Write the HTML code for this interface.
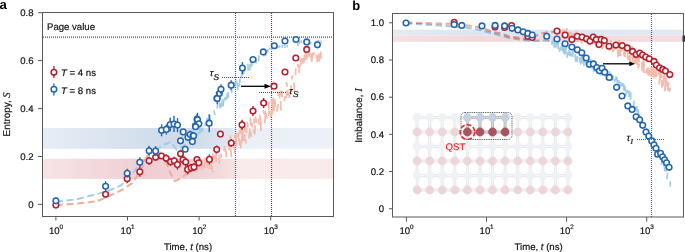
<!DOCTYPE html>
<html><head><meta charset="utf-8"><style>
html,body{margin:0;padding:0;background:#fff;width:685px;height:252px;overflow:hidden}
svg{display:block;will-change:transform;text-rendering:geometricPrecision} text[fill="#111"]{stroke:#111;stroke-width:0.18px}
</style></head><body>
<svg width="685" height="252" viewBox="0 0 685 252">
<rect width="685" height="252" fill="#fff"/>
<defs>
<linearGradient id="gbA" x1="0" x2="1" y1="0" y2="0">
 <stop offset="0" stop-color="#e6edf5"/><stop offset="0.42" stop-color="#d0dcea"/><stop offset="0.55" stop-color="#d3deeb"/><stop offset="0.66" stop-color="#e2e9f3"/><stop offset="0.665" stop-color="#ebf0f7"/><stop offset="1" stop-color="#ecf1f7"/></linearGradient>
<linearGradient id="grA" x1="0" x2="1" y1="0" y2="0">
 <stop offset="0" stop-color="#f6e4e6"/><stop offset="0.35" stop-color="#efced3"/><stop offset="0.55" stop-color="#f0d3d7"/><stop offset="0.66" stop-color="#f5e1e3"/><stop offset="0.665" stop-color="#f9ebec"/><stop offset="1" stop-color="#f9ebec"/></linearGradient>
<linearGradient id="gbB" x1="0" x2="1" y1="0" y2="0">
 <stop offset="0" stop-color="#e3ebf4"/><stop offset="0.3" stop-color="#dbe5f0"/><stop offset="1" stop-color="#e2e9f3"/></linearGradient>
<linearGradient id="grB" x1="0" x2="1" y1="0" y2="0">
 <stop offset="0" stop-color="#f5e0e3"/><stop offset="0.3" stop-color="#f2d7db"/><stop offset="1" stop-color="#f4dde0"/></linearGradient>
</defs>
<rect x="43" y="128" width="290" height="20.8" fill="url(#gbA)"/>
<rect x="43" y="158.7" width="290" height="20.2" fill="url(#grA)"/>
<line x1="43" y1="37.2" x2="333" y2="37.2" stroke="#4a4a4a" stroke-width="1.2" stroke-dasharray="1 1"/>
<text x="47" y="29.5" font-size="9.6" fill="#111" font-family="Liberation Sans, sans-serif">Page value</text>
<line x1="235.5" y1="13" x2="235.5" y2="216" stroke="#2466ae" stroke-width="1.2" stroke-dasharray="1 1"/>
<line x1="271.5" y1="13" x2="271.5" y2="216" stroke="#b5202e" stroke-width="1.2" stroke-dasharray="1 1"/>
<polyline points="56.0,202.0 78.0,199.0 97.0,194.0 109.0,190.5 121.0,185.5 132.0,174.0 140.0,164.0 150.0,153.0 157.5,148.8 164.0,144.8 171.0,141.7 176.5,149.6 183.7,145.6 189.0,143.0 195.0,137.0 203.0,128.0" fill="none" stroke="#a3cde4" stroke-width="2" stroke-dasharray="7 3.6"/>
<polyline points="56.0,205.0 78.0,203.6 97.0,201.2 106.0,197.6 121.0,190.5 132.0,183.3 140.0,172.0 146.0,158.0 152.0,151.0 158.0,150.0 163.0,157.0 167.6,165.9 170.8,173.8 174.8,181.0 177.1,180.2 183.5,176.2 188.3,173.0 195.0,170.0 200.0,167.0" fill="none" stroke="#f3ad96" stroke-width="2" stroke-dasharray="7 3.6"/>
<path d="M200.5,160.8L199.5,168.7M203.0,165.0L202.3,169.7M205.3,157.9L204.2,167.8M209.0,157.4L209.2,163.3M210.4,159.6L210.6,165.1M212.9,153.1L212.0,163.0M214.1,155.2L214.5,159.4M215.9,151.4L216.1,159.6M219.6,154.9L219.1,163.9M228.7,140.3L229.1,150.0M230.3,135.4L230.9,144.8M234.5,135.1L235.4,139.3M236.7,132.7L235.8,138.9M238.8,133.0L237.8,137.5M239.1,130.3L240.2,134.4M240.3,126.6L241.5,133.8M242.4,128.1L243.0,133.1M244.0,122.8L245.2,131.7M246.4,127.5L246.5,132.9M247.4,121.8L247.8,127.4M250.0,117.6L251.0,125.3M251.9,122.8L252.3,127.3M253.6,118.6L254.3,123.7M255.3,116.5L256.4,123.0M259.6,114.7L260.7,121.9M263.3,109.7L264.3,114.5M264.9,111.0L265.9,117.5M268.8,101.5L269.0,109.8M271.6,99.3L272.2,106.7M273.2,97.8L273.7,104.8M274.6,98.9L275.5,107.1M277.8,91.3L278.2,95.8M280.4,90.6L279.5,98.5M282.0,90.5L282.0,96.9M286.2,82.0L287.4,86.4M292.6,75.0L291.6,79.5M295.8,68.3L295.4,75.0" fill="none" stroke="#f3bcad" stroke-width="1.8" stroke-linecap="butt" opacity="1"/>
<path d="M207.2,161.6L206.8,167.5M209.6,163.8L209.5,168.9M210.4,162.0L211.2,168.9M212.0,166.3L212.8,172.4M215.5,157.6L216.3,162.1M221.4,153.8L221.1,157.8M224.7,145.9L224.1,151.7M225.6,149.0L226.5,157.3M230.6,148.3L231.4,157.1M234.3,145.8L234.6,153.1M235.9,137.0L236.5,145.7M238.6,137.3L239.8,145.7M240.6,139.8L240.8,148.4M242.1,134.6L241.7,143.1M242.8,133.0L243.3,141.0M244.9,134.1L244.0,140.9M245.8,139.3L245.7,143.4M249.9,128.7L249.0,138.5M250.6,131.7L251.6,137.1M253.4,129.2L254.0,133.2M255.2,125.3L254.7,134.7M258.4,118.9L259.5,125.2M260.8,121.4L260.9,131.1M265.3,115.6L264.8,123.5M266.0,113.5L267.0,118.7M269.3,110.3L268.8,115.7M271.0,110.4L271.0,116.9M272.9,104.8L272.0,114.6M274.5,105.2L273.9,110.8M278.1,104.1L276.9,111.6M280.5,100.9L281.1,110.5M285.0,96.4L284.4,101.1M286.4,90.6L286.6,97.7M287.8,89.7L287.8,95.5M289.8,92.4L289.2,97.8M291.1,85.3L291.5,92.3M293.9,82.7L294.5,91.4" fill="none" stroke="#f3bcad" stroke-width="1.8" stroke-linecap="butt" opacity="1"/>
<path d="M298.1,64.0L297.9,67.4M299.6,65.0L299.1,72.7M300.9,59.2L300.6,65.5M301.9,57.9L301.6,62.3M302.2,58.9L303.0,63.6M303.1,57.8L304.1,62.7M304.3,55.2L305.0,60.3M305.7,52.0L305.2,59.6M306.7,51.8L306.9,59.6M307.7,53.6L308.4,56.6M309.3,52.6L309.2,56.8M310.6,52.7L310.6,57.9M311.2,54.8L311.9,61.9M313.0,52.4L312.0,59.3M313.7,52.1L313.8,55.2M316.4,54.7L316.2,58.8M318.0,56.1L317.1,62.4M318.8,53.6L318.1,60.3M319.6,55.6L319.2,61.5M320.6,51.6L321.0,58.7" fill="none" stroke="#f3bcad" stroke-width="1.9" stroke-linecap="butt" opacity="1"/>
<path d="M199.9,125.6L200.1,133.5M201.1,127.8L201.8,132.1M202.9,127.5L202.5,131.6M205.8,121.6L205.1,126.2M207.0,118.0L207.2,123.0M208.6,118.7L208.0,123.7M210.4,115.2L210.2,120.0M213.9,110.1L214.9,115.2M217.7,104.8L217.1,108.5M218.8,100.3L220.0,107.3M221.2,103.0L220.1,108.4M222.5,99.7L221.7,106.8M223.8,99.1L223.1,106.2M225.3,96.9L224.7,100.5M227.5,92.8L226.4,99.6M228.4,92.0L228.0,98.1M231.2,86.0L231.9,92.8M234.9,82.1L233.9,88.3M236.4,80.3L236.1,85.8M237.2,83.1L237.9,89.8M240.0,78.8L239.2,86.4M242.0,71.6L241.2,78.4M242.5,69.5L243.5,75.1M244.7,69.4L244.0,72.6M247.9,63.7L248.1,71.1M250.1,64.1L249.9,70.2M251.0,62.1L251.7,66.9M252.9,57.5L252.4,64.6M255.5,57.7L256.4,63.3M259.1,55.4L258.4,61.4M263.9,50.2L263.8,56.4M265.6,52.6L265.7,55.9M266.9,50.1L267.1,53.2" fill="none" stroke="#a3cde4" stroke-width="1.7" stroke-linecap="butt" opacity="1"/>
<path d="M267.8,49.1L268.2,51.8M269.1,47.6L270.1,49.7M271.9,46.7L271.8,49.8M274.4,45.3L273.3,47.6M276.4,45.7L275.8,48.8M277.9,45.7L278.2,48.0M280.0,45.2L279.4,47.6M282.4,44.6L282.0,48.0M284.1,44.8L285.3,47.8M286.9,44.8L287.4,47.4M297.4,43.2L298.2,46.2M299.9,40.9L299.2,44.1M301.2,40.4L301.7,42.8M304.9,42.1L305.3,44.6M308.4,43.7L308.4,45.7M310.4,42.0L311.2,44.5M315.1,40.9L315.8,44.0M317.8,40.2L316.8,43.5M318.7,40.0L318.7,43.3M320.9,40.5L321.5,43.3" fill="none" stroke="#a3cde4" stroke-width="1.6" stroke-linecap="butt" opacity="1"/>
<circle cx="55.9" cy="205.1" r="2.8" fill="#fff" stroke="#b5202e" stroke-width="1.55"/>
<line x1="105.6" y1="191.8" x2="105.6" y2="196.8" stroke="#b5202e" stroke-width="1.4"/><circle cx="105.6" cy="194.3" r="2.8" fill="#fff" stroke="#b5202e" stroke-width="1.55"/>
<line x1="127.2" y1="174.3" x2="127.2" y2="183.3" stroke="#b5202e" stroke-width="1.4"/><circle cx="127.2" cy="178.8" r="2.8" fill="#fff" stroke="#b5202e" stroke-width="1.55"/>
<line x1="139.8" y1="166.7" x2="139.8" y2="176.7" stroke="#b5202e" stroke-width="1.4"/><circle cx="139.8" cy="171.7" r="2.8" fill="#fff" stroke="#b5202e" stroke-width="1.55"/>
<line x1="149.1" y1="156.8" x2="149.1" y2="164.8" stroke="#b5202e" stroke-width="1.4"/><circle cx="149.1" cy="160.8" r="2.8" fill="#fff" stroke="#b5202e" stroke-width="1.55"/>
<line x1="155.6" y1="154.3" x2="155.6" y2="160.3" stroke="#b5202e" stroke-width="1.4"/><circle cx="155.6" cy="157.3" r="2.8" fill="#fff" stroke="#b5202e" stroke-width="1.55"/>
<line x1="161.5" y1="153.0" x2="161.5" y2="159.0" stroke="#b5202e" stroke-width="1.4"/><circle cx="161.5" cy="156.0" r="2.8" fill="#fff" stroke="#b5202e" stroke-width="1.55"/>
<line x1="166.2" y1="154.3" x2="166.2" y2="162.3" stroke="#b5202e" stroke-width="1.4"/><circle cx="166.2" cy="158.3" r="2.8" fill="#fff" stroke="#b5202e" stroke-width="1.55"/>
<line x1="170.5" y1="157.8" x2="170.5" y2="165.8" stroke="#b5202e" stroke-width="1.4"/><circle cx="170.5" cy="161.8" r="2.8" fill="#fff" stroke="#b5202e" stroke-width="1.55"/>
<line x1="174.2" y1="156.7" x2="174.2" y2="164.7" stroke="#b5202e" stroke-width="1.4"/><circle cx="174.2" cy="160.7" r="2.8" fill="#fff" stroke="#b5202e" stroke-width="1.55"/>
<line x1="177.4" y1="159.6" x2="177.4" y2="169.6" stroke="#b5202e" stroke-width="1.4"/><circle cx="177.4" cy="164.6" r="2.8" fill="#fff" stroke="#b5202e" stroke-width="1.55"/>
<line x1="180.5" y1="149.7" x2="180.5" y2="157.7" stroke="#b5202e" stroke-width="1.4"/><circle cx="180.5" cy="153.7" r="2.8" fill="#fff" stroke="#b5202e" stroke-width="1.55"/>
<line x1="183.0" y1="155.7" x2="183.0" y2="163.7" stroke="#b5202e" stroke-width="1.4"/><circle cx="183.0" cy="159.7" r="2.8" fill="#fff" stroke="#b5202e" stroke-width="1.55"/>
<line x1="185.7" y1="158.0" x2="185.7" y2="166.0" stroke="#b5202e" stroke-width="1.4"/><circle cx="185.7" cy="162.0" r="2.8" fill="#fff" stroke="#b5202e" stroke-width="1.55"/>
<line x1="187.6" y1="164.4" x2="187.6" y2="174.4" stroke="#b5202e" stroke-width="1.4"/><circle cx="187.6" cy="169.4" r="2.8" fill="#fff" stroke="#b5202e" stroke-width="1.55"/>
<line x1="191.1" y1="163.8" x2="191.1" y2="171.8" stroke="#b5202e" stroke-width="1.4"/><circle cx="191.1" cy="167.8" r="2.8" fill="#fff" stroke="#b5202e" stroke-width="1.55"/>
<line x1="194.0" y1="163.0" x2="194.0" y2="171.0" stroke="#b5202e" stroke-width="1.4"/><circle cx="194.0" cy="167.0" r="2.8" fill="#fff" stroke="#b5202e" stroke-width="1.55"/>
<line x1="197.0" y1="156.6" x2="197.0" y2="162.6" stroke="#b5202e" stroke-width="1.4"/><circle cx="197.0" cy="159.6" r="2.8" fill="#fff" stroke="#b5202e" stroke-width="1.55"/>
<line x1="198.8" y1="159.8" x2="198.8" y2="165.8" stroke="#b5202e" stroke-width="1.4"/><circle cx="198.8" cy="162.8" r="2.8" fill="#fff" stroke="#b5202e" stroke-width="1.55"/>
<line x1="209.4" y1="154.4" x2="209.4" y2="164.4" stroke="#b5202e" stroke-width="1.4"/><circle cx="209.4" cy="159.4" r="2.8" fill="#fff" stroke="#b5202e" stroke-width="1.55"/>
<line x1="216.7" y1="145.5" x2="216.7" y2="153.5" stroke="#b5202e" stroke-width="1.4"/><circle cx="216.7" cy="149.5" r="2.8" fill="#fff" stroke="#b5202e" stroke-width="1.55"/>
<line x1="220.4" y1="131.1" x2="220.4" y2="137.1" stroke="#b5202e" stroke-width="1.4"/><circle cx="220.4" cy="134.1" r="2.8" fill="#fff" stroke="#b5202e" stroke-width="1.55"/>
<line x1="231.3" y1="139.0" x2="231.3" y2="147.0" stroke="#b5202e" stroke-width="1.4"/><circle cx="231.3" cy="143.0" r="2.8" fill="#fff" stroke="#b5202e" stroke-width="1.55"/>
<line x1="242.0" y1="119.8" x2="242.0" y2="129.8" stroke="#b5202e" stroke-width="1.4"/><circle cx="242.0" cy="124.8" r="2.8" fill="#fff" stroke="#b5202e" stroke-width="1.55"/>
<line x1="253.0" y1="106.0" x2="253.0" y2="116.0" stroke="#b5202e" stroke-width="1.4"/><circle cx="253.0" cy="111.0" r="2.8" fill="#fff" stroke="#b5202e" stroke-width="1.55"/>
<line x1="263.6" y1="98.0" x2="263.6" y2="108.0" stroke="#b5202e" stroke-width="1.4"/><circle cx="263.6" cy="103.0" r="2.8" fill="#fff" stroke="#b5202e" stroke-width="1.55"/>
<circle cx="274.0" cy="86.2" r="2.8" fill="#fff" stroke="#b5202e" stroke-width="1.55"/>
<circle cx="285.0" cy="72.0" r="2.8" fill="#fff" stroke="#b5202e" stroke-width="1.55"/>
<circle cx="295.8" cy="58.0" r="2.8" fill="#fff" stroke="#b5202e" stroke-width="1.55"/>
<circle cx="306.7" cy="49.4" r="2.8" fill="#fff" stroke="#b5202e" stroke-width="1.55"/>
<line x1="55.9" y1="197.2" x2="55.9" y2="204.2" stroke="#2466ae" stroke-width="1.4"/><circle cx="55.9" cy="200.7" r="2.8" fill="#fff" stroke="#2466ae" stroke-width="1.55"/>
<line x1="105.6" y1="181.2" x2="105.6" y2="191.2" stroke="#2466ae" stroke-width="1.4"/><circle cx="105.6" cy="186.2" r="2.8" fill="#fff" stroke="#2466ae" stroke-width="1.55"/>
<line x1="127.2" y1="168.8" x2="127.2" y2="177.8" stroke="#2466ae" stroke-width="1.4"/><circle cx="127.2" cy="173.3" r="2.8" fill="#fff" stroke="#2466ae" stroke-width="1.55"/>
<line x1="139.8" y1="157.2" x2="139.8" y2="167.2" stroke="#2466ae" stroke-width="1.4"/><circle cx="139.8" cy="162.2" r="2.8" fill="#fff" stroke="#2466ae" stroke-width="1.55"/>
<line x1="149.1" y1="145.8" x2="149.1" y2="155.8" stroke="#2466ae" stroke-width="1.4"/><circle cx="149.1" cy="150.8" r="2.8" fill="#fff" stroke="#2466ae" stroke-width="1.55"/>
<line x1="155.6" y1="146.1" x2="155.6" y2="156.1" stroke="#2466ae" stroke-width="1.4"/><circle cx="155.6" cy="151.1" r="2.8" fill="#fff" stroke="#2466ae" stroke-width="1.55"/>
<line x1="161.6" y1="124.3" x2="161.6" y2="136.3" stroke="#2466ae" stroke-width="1.4"/><circle cx="161.6" cy="130.3" r="2.8" fill="#fff" stroke="#2466ae" stroke-width="1.55"/>
<line x1="166.3" y1="124.4" x2="166.3" y2="134.4" stroke="#2466ae" stroke-width="1.4"/><circle cx="166.3" cy="129.4" r="2.8" fill="#fff" stroke="#2466ae" stroke-width="1.55"/>
<line x1="170.2" y1="117.6" x2="170.2" y2="131.6" stroke="#2466ae" stroke-width="1.4"/><circle cx="170.2" cy="124.6" r="2.8" fill="#fff" stroke="#2466ae" stroke-width="1.55"/>
<line x1="174.0" y1="116.0" x2="174.0" y2="132.0" stroke="#2466ae" stroke-width="1.4"/><circle cx="174.0" cy="124.0" r="2.8" fill="#fff" stroke="#2466ae" stroke-width="1.55"/>
<line x1="177.5" y1="118.1" x2="177.5" y2="132.1" stroke="#2466ae" stroke-width="1.4"/><circle cx="177.5" cy="125.1" r="2.8" fill="#fff" stroke="#2466ae" stroke-width="1.55"/>
<line x1="180.5" y1="137.8" x2="180.5" y2="143.8" stroke="#2466ae" stroke-width="1.4"/><circle cx="180.5" cy="140.8" r="2.8" fill="#fff" stroke="#2466ae" stroke-width="1.55"/>
<line x1="183.2" y1="128.9" x2="183.2" y2="134.9" stroke="#2466ae" stroke-width="1.4"/><circle cx="183.2" cy="131.9" r="2.8" fill="#fff" stroke="#2466ae" stroke-width="1.55"/>
<line x1="185.2" y1="146.2" x2="185.2" y2="152.2" stroke="#2466ae" stroke-width="1.4"/><circle cx="185.2" cy="149.2" r="2.8" fill="#fff" stroke="#2466ae" stroke-width="1.55"/>
<line x1="188.0" y1="134.3" x2="188.0" y2="140.3" stroke="#2466ae" stroke-width="1.4"/><circle cx="188.0" cy="137.3" r="2.8" fill="#fff" stroke="#2466ae" stroke-width="1.55"/>
<line x1="190.2" y1="130.6" x2="190.2" y2="138.6" stroke="#2466ae" stroke-width="1.4"/><circle cx="190.2" cy="134.6" r="2.8" fill="#fff" stroke="#2466ae" stroke-width="1.55"/>
<line x1="193.0" y1="131.7" x2="193.0" y2="139.7" stroke="#2466ae" stroke-width="1.4"/><circle cx="193.0" cy="135.7" r="2.8" fill="#fff" stroke="#2466ae" stroke-width="1.55"/>
<line x1="192.4" y1="138.6" x2="192.4" y2="144.6" stroke="#2466ae" stroke-width="1.4"/><circle cx="192.4" cy="141.6" r="2.8" fill="#fff" stroke="#2466ae" stroke-width="1.55"/>
<line x1="195.4" y1="121.9" x2="195.4" y2="129.9" stroke="#2466ae" stroke-width="1.4"/><circle cx="195.4" cy="125.9" r="2.8" fill="#fff" stroke="#2466ae" stroke-width="1.55"/>
<line x1="197.0" y1="114.2" x2="197.0" y2="124.2" stroke="#2466ae" stroke-width="1.4"/><circle cx="197.0" cy="119.2" r="2.8" fill="#fff" stroke="#2466ae" stroke-width="1.55"/>
<line x1="197.5" y1="112.8" x2="197.5" y2="126.8" stroke="#2466ae" stroke-width="1.4"/><circle cx="197.5" cy="119.8" r="2.8" fill="#fff" stroke="#2466ae" stroke-width="1.55"/>
<line x1="198.9" y1="120.8" x2="198.9" y2="126.8" stroke="#2466ae" stroke-width="1.4"/><circle cx="198.9" cy="123.8" r="2.8" fill="#fff" stroke="#2466ae" stroke-width="1.55"/>
<line x1="193.6" y1="132.7" x2="193.6" y2="138.7" stroke="#2466ae" stroke-width="1.4"/><circle cx="193.6" cy="135.7" r="2.8" fill="#fff" stroke="#2466ae" stroke-width="1.55"/>
<line x1="195.6" y1="123.7" x2="195.6" y2="129.7" stroke="#2466ae" stroke-width="1.4"/><circle cx="195.6" cy="126.7" r="2.8" fill="#fff" stroke="#2466ae" stroke-width="1.55"/>
<line x1="209.2" y1="114.2" x2="209.2" y2="132.2" stroke="#2466ae" stroke-width="1.4"/><circle cx="209.2" cy="123.2" r="2.8" fill="#fff" stroke="#2466ae" stroke-width="1.55"/>
<line x1="216.9" y1="95.3" x2="216.9" y2="101.3" stroke="#2466ae" stroke-width="1.4"/><circle cx="216.9" cy="98.3" r="2.8" fill="#fff" stroke="#2466ae" stroke-width="1.55"/>
<line x1="219.3" y1="90.6" x2="219.3" y2="96.6" stroke="#2466ae" stroke-width="1.4"/><circle cx="219.3" cy="93.6" r="2.8" fill="#fff" stroke="#2466ae" stroke-width="1.55"/>
<line x1="221.0" y1="84.3" x2="221.0" y2="94.3" stroke="#2466ae" stroke-width="1.4"/><circle cx="221.0" cy="89.3" r="2.8" fill="#fff" stroke="#2466ae" stroke-width="1.55"/>
<line x1="217.2" y1="92.6" x2="217.2" y2="104.6" stroke="#2466ae" stroke-width="1.4"/><circle cx="217.2" cy="98.6" r="2.8" fill="#fff" stroke="#2466ae" stroke-width="1.55"/>
<line x1="231.2" y1="80.2" x2="231.2" y2="90.2" stroke="#2466ae" stroke-width="1.4"/><circle cx="231.2" cy="85.2" r="2.8" fill="#fff" stroke="#2466ae" stroke-width="1.55"/>
<line x1="242.4" y1="62.1" x2="242.4" y2="74.1" stroke="#2466ae" stroke-width="1.4"/><circle cx="242.4" cy="68.1" r="2.8" fill="#fff" stroke="#2466ae" stroke-width="1.55"/>
<line x1="253.0" y1="57.5" x2="253.0" y2="61.5" stroke="#2466ae" stroke-width="1.4"/><circle cx="253.0" cy="59.5" r="2.8" fill="#fff" stroke="#2466ae" stroke-width="1.55"/>
<circle cx="263.3" cy="51.9" r="2.8" fill="#fff" stroke="#2466ae" stroke-width="1.55"/>
<circle cx="274.3" cy="45.7" r="2.8" fill="#fff" stroke="#2466ae" stroke-width="1.55"/>
<circle cx="285.0" cy="41.0" r="2.8" fill="#fff" stroke="#2466ae" stroke-width="1.55"/>
<circle cx="296.0" cy="39.5" r="2.8" fill="#fff" stroke="#2466ae" stroke-width="1.55"/>
<circle cx="306.7" cy="41.9" r="2.8" fill="#fff" stroke="#2466ae" stroke-width="1.55"/>
<circle cx="317.4" cy="44.8" r="2.8" fill="#fff" stroke="#2466ae" stroke-width="1.55"/>
<line x1="222" y1="77.5" x2="249" y2="77.5" stroke="#2466ae" stroke-width="1.2" stroke-dasharray="1 1"/>
<line x1="259" y1="92.5" x2="286" y2="92.5" stroke="#b5202e" stroke-width="1.2" stroke-dasharray="1 1"/>
<line x1="241" y1="86.3" x2="265" y2="86.3" stroke="#000" stroke-width="1.3"/>
<polygon points="264.5,83.8 270.8,86.3 264.5,88.8" fill="#000"/>
<text x="209.8" y="76.2" font-size="9.3" font-style="italic" fill="#111" font-family="Liberation Sans, sans-serif">τ</text><text x="213.6" y="79.9" font-size="8.4" font-style="italic" fill="#111" font-family="Liberation Sans, sans-serif">S</text>
<text x="288.9" y="94.1" font-size="9.3" font-style="italic" fill="#111" font-family="Liberation Sans, sans-serif">τ</text><text x="292.9" y="96.9" font-size="8.4" font-style="italic" fill="#111" font-family="Liberation Sans, sans-serif">S</text>
<line x1="53.9" y1="66" x2="53.9" y2="78" stroke="#b5202e" stroke-width="1.3"/><circle cx="53.9" cy="72.3" r="2.8" fill="#fff" stroke="#b5202e" stroke-width="1.55"/>
<line x1="53.9" y1="83.6" x2="53.9" y2="95.6" stroke="#2466ae" stroke-width="1.3"/><circle cx="53.9" cy="89.3" r="2.8" fill="#fff" stroke="#2466ae" stroke-width="1.55"/>
<text x="61" y="76" font-size="9.6" fill="#111" font-family="Liberation Sans, sans-serif"><tspan font-style="italic">T</tspan> = 4 ns</text>
<text x="61" y="94" font-size="9.6" fill="#111" font-family="Liberation Sans, sans-serif"><tspan font-style="italic">T</tspan> = 8 ns</text>
<rect x="42.5" y="12.5" width="291" height="204" fill="none" stroke="#5a5a5a" stroke-width="1"/>
<line x1="38" y1="204.4" x2="42.5" y2="204.4" stroke="#5a5a5a" stroke-width="1"/>
<text x="33.5" y="207.6" font-size="9.6" text-anchor="end" fill="#111" font-family="Liberation Sans, sans-serif">0</text>
<line x1="38" y1="156.5" x2="42.5" y2="156.5" stroke="#5a5a5a" stroke-width="1"/>
<text x="33.5" y="159.7" font-size="9.6" text-anchor="end" fill="#111" font-family="Liberation Sans, sans-serif">0.2</text>
<line x1="38" y1="108.6" x2="42.5" y2="108.6" stroke="#5a5a5a" stroke-width="1"/>
<text x="33.5" y="111.8" font-size="9.6" text-anchor="end" fill="#111" font-family="Liberation Sans, sans-serif">0.4</text>
<line x1="38" y1="60.6" x2="42.5" y2="60.6" stroke="#5a5a5a" stroke-width="1"/>
<text x="33.5" y="63.8" font-size="9.6" text-anchor="end" fill="#111" font-family="Liberation Sans, sans-serif">0.6</text>
<line x1="38" y1="12.7" x2="42.5" y2="12.7" stroke="#5a5a5a" stroke-width="1"/>
<text x="33.5" y="15.9" font-size="9.6" text-anchor="end" fill="#111" font-family="Liberation Sans, sans-serif">0.8</text>
<line x1="55.9" y1="216.5" x2="55.9" y2="220.5" stroke="#5a5a5a" stroke-width="1"/>
<text x="56.0" y="234.1" font-size="9.6" text-anchor="middle" fill="#111" font-family="Liberation Sans, sans-serif">10<tspan font-size="6.4" dx="-0.2" dy="-5">0</tspan></text>
<line x1="127.5" y1="216.5" x2="127.5" y2="220.5" stroke="#5a5a5a" stroke-width="1"/>
<text x="127.6" y="234.1" font-size="9.6" text-anchor="middle" fill="#111" font-family="Liberation Sans, sans-serif">10<tspan font-size="6.4" dx="-0.2" dy="-5">1</tspan></text>
<line x1="199.1" y1="216.5" x2="199.1" y2="220.5" stroke="#5a5a5a" stroke-width="1"/>
<text x="199.2" y="234.1" font-size="9.6" text-anchor="middle" fill="#111" font-family="Liberation Sans, sans-serif">10<tspan font-size="6.4" dx="-0.2" dy="-5">2</tspan></text>
<line x1="270.7" y1="216.5" x2="270.7" y2="220.5" stroke="#5a5a5a" stroke-width="1"/>
<text x="270.8" y="234.1" font-size="9.6" text-anchor="middle" fill="#111" font-family="Liberation Sans, sans-serif">10<tspan font-size="6.4" dx="-0.2" dy="-5">3</tspan></text>
<text x="188" y="250" font-size="9.6" text-anchor="middle" fill="#111" font-family="Liberation Sans, sans-serif">Time, <tspan font-style="italic">t</tspan> (ns)</text>
<text transform="translate(10.3,114.4) rotate(-90)" font-size="9.9" text-anchor="middle" fill="#111" font-family="Liberation Sans, sans-serif">Entropy, <tspan font-style="italic" font-size="10.5" font-family="Liberation Serif, serif">S</tspan></text>
<text x="-0.6" y="9.3" font-size="13.2" font-weight="bold" fill="#000" font-family="Liberation Sans, sans-serif">a</text>
<rect x="393" y="29.7" width="290.5" height="5.8" fill="url(#gbB)"/>
<rect x="393" y="35.5" width="290.5" height="6.3" fill="url(#grB)"/>
<line x1="417.1" y1="117.5" x2="567.9" y2="117.5" stroke="#e8e8e8" stroke-width="3"/><line x1="417.1" y1="117.5" x2="567.9" y2="117.5" stroke="#f8f8f8" stroke-width="1"/>
<line x1="417.1" y1="132.0" x2="567.9" y2="132.0" stroke="#e8e8e8" stroke-width="3"/><line x1="417.1" y1="132.0" x2="567.9" y2="132.0" stroke="#f8f8f8" stroke-width="1"/>
<line x1="417.1" y1="146.5" x2="567.9" y2="146.5" stroke="#e8e8e8" stroke-width="3"/><line x1="417.1" y1="146.5" x2="567.9" y2="146.5" stroke="#f8f8f8" stroke-width="1"/>
<line x1="417.1" y1="161.0" x2="567.9" y2="161.0" stroke="#e8e8e8" stroke-width="3"/><line x1="417.1" y1="161.0" x2="567.9" y2="161.0" stroke="#f8f8f8" stroke-width="1"/>
<line x1="417.1" y1="175.5" x2="567.9" y2="175.5" stroke="#e8e8e8" stroke-width="3"/><line x1="417.1" y1="175.5" x2="567.9" y2="175.5" stroke="#f8f8f8" stroke-width="1"/>
<line x1="417.1" y1="190.0" x2="567.9" y2="190.0" stroke="#e8e8e8" stroke-width="3"/><line x1="417.1" y1="190.0" x2="567.9" y2="190.0" stroke="#f8f8f8" stroke-width="1"/>
<line x1="417.1" y1="117.5" x2="417.1" y2="190.0" stroke="#e8e8e8" stroke-width="3"/><line x1="417.1" y1="117.5" x2="417.1" y2="190.0" stroke="#f8f8f8" stroke-width="1"/>
<line x1="429.7" y1="117.5" x2="429.7" y2="190.0" stroke="#e8e8e8" stroke-width="3"/><line x1="429.7" y1="117.5" x2="429.7" y2="190.0" stroke="#f8f8f8" stroke-width="1"/>
<line x1="442.2" y1="117.5" x2="442.2" y2="190.0" stroke="#e8e8e8" stroke-width="3"/><line x1="442.2" y1="117.5" x2="442.2" y2="190.0" stroke="#f8f8f8" stroke-width="1"/>
<line x1="454.8" y1="117.5" x2="454.8" y2="190.0" stroke="#e8e8e8" stroke-width="3"/><line x1="454.8" y1="117.5" x2="454.8" y2="190.0" stroke="#f8f8f8" stroke-width="1"/>
<line x1="467.4" y1="117.5" x2="467.4" y2="190.0" stroke="#e8e8e8" stroke-width="3"/><line x1="467.4" y1="117.5" x2="467.4" y2="190.0" stroke="#f8f8f8" stroke-width="1"/>
<line x1="480.0" y1="117.5" x2="480.0" y2="190.0" stroke="#e8e8e8" stroke-width="3"/><line x1="480.0" y1="117.5" x2="480.0" y2="190.0" stroke="#f8f8f8" stroke-width="1"/>
<line x1="492.5" y1="117.5" x2="492.5" y2="190.0" stroke="#e8e8e8" stroke-width="3"/><line x1="492.5" y1="117.5" x2="492.5" y2="190.0" stroke="#f8f8f8" stroke-width="1"/>
<line x1="505.1" y1="117.5" x2="505.1" y2="190.0" stroke="#e8e8e8" stroke-width="3"/><line x1="505.1" y1="117.5" x2="505.1" y2="190.0" stroke="#f8f8f8" stroke-width="1"/>
<line x1="517.7" y1="117.5" x2="517.7" y2="190.0" stroke="#e8e8e8" stroke-width="3"/><line x1="517.7" y1="117.5" x2="517.7" y2="190.0" stroke="#f8f8f8" stroke-width="1"/>
<line x1="530.2" y1="117.5" x2="530.2" y2="190.0" stroke="#e8e8e8" stroke-width="3"/><line x1="530.2" y1="117.5" x2="530.2" y2="190.0" stroke="#f8f8f8" stroke-width="1"/>
<line x1="542.8" y1="117.5" x2="542.8" y2="190.0" stroke="#e8e8e8" stroke-width="3"/><line x1="542.8" y1="117.5" x2="542.8" y2="190.0" stroke="#f8f8f8" stroke-width="1"/>
<line x1="555.4" y1="117.5" x2="555.4" y2="190.0" stroke="#e8e8e8" stroke-width="3"/><line x1="555.4" y1="117.5" x2="555.4" y2="190.0" stroke="#f8f8f8" stroke-width="1"/>
<line x1="567.9" y1="117.5" x2="567.9" y2="190.0" stroke="#e8e8e8" stroke-width="3"/><line x1="567.9" y1="117.5" x2="567.9" y2="190.0" stroke="#f8f8f8" stroke-width="1"/>
<line x1="467.4" y1="117.5" x2="505.1" y2="117.5" stroke="#bdbdbd" stroke-width="3"/><line x1="467.4" y1="117.5" x2="505.1" y2="117.5" stroke="#d8d8d8" stroke-width="1"/>
<line x1="467.4" y1="132.0" x2="505.1" y2="132.0" stroke="#bdbdbd" stroke-width="3"/><line x1="467.4" y1="132.0" x2="505.1" y2="132.0" stroke="#d8d8d8" stroke-width="1"/>
<line x1="467.4" y1="117.5" x2="467.4" y2="132.0" stroke="#bdbdbd" stroke-width="3"/><line x1="467.4" y1="117.5" x2="467.4" y2="132.0" stroke="#d8d8d8" stroke-width="1"/>
<line x1="480.0" y1="117.5" x2="480.0" y2="132.0" stroke="#bdbdbd" stroke-width="3"/><line x1="480.0" y1="117.5" x2="480.0" y2="132.0" stroke="#d8d8d8" stroke-width="1"/>
<line x1="492.5" y1="117.5" x2="492.5" y2="132.0" stroke="#bdbdbd" stroke-width="3"/><line x1="492.5" y1="117.5" x2="492.5" y2="132.0" stroke="#d8d8d8" stroke-width="1"/>
<line x1="505.1" y1="117.5" x2="505.1" y2="132.0" stroke="#bdbdbd" stroke-width="3"/><line x1="505.1" y1="117.5" x2="505.1" y2="132.0" stroke="#d8d8d8" stroke-width="1"/>
<circle cx="417.1" cy="117.5" r="4.4" fill="#eef1f6"/>
<circle cx="429.7" cy="117.5" r="4.4" fill="#eef1f6"/>
<circle cx="442.2" cy="117.5" r="4.4" fill="#eef1f6"/>
<circle cx="454.8" cy="117.5" r="4.4" fill="#eef1f6"/>
<circle cx="467.4" cy="117.5" r="4.4" fill="#c5d1df"/>
<circle cx="480.0" cy="117.5" r="4.4" fill="#c5d1df"/>
<circle cx="492.5" cy="117.5" r="4.4" fill="#c5d1df"/>
<circle cx="505.1" cy="117.5" r="4.4" fill="#c5d1df"/>
<circle cx="517.7" cy="117.5" r="4.4" fill="#eef1f6"/>
<circle cx="530.2" cy="117.5" r="4.4" fill="#eef1f6"/>
<circle cx="542.8" cy="117.5" r="4.4" fill="#eef1f6"/>
<circle cx="555.4" cy="117.5" r="4.4" fill="#eef1f6"/>
<circle cx="567.9" cy="117.5" r="4.4" fill="#eef1f6"/>
<circle cx="417.1" cy="132.0" r="4.4" fill="#ecd6d9"/>
<circle cx="429.7" cy="132.0" r="4.4" fill="#ecd6d9"/>
<circle cx="442.2" cy="132.0" r="4.4" fill="#ecd6d9"/>
<circle cx="454.8" cy="132.0" r="4.4" fill="#ecd6d9"/>
<circle cx="467.4" cy="132.0" r="4.4" fill="#a9555f"/>
<circle cx="480.0" cy="132.0" r="4.4" fill="#a9555f"/>
<circle cx="492.5" cy="132.0" r="4.4" fill="#a9555f"/>
<circle cx="505.1" cy="132.0" r="4.4" fill="#a9555f"/>
<circle cx="517.7" cy="132.0" r="4.4" fill="#ecd6d9"/>
<circle cx="530.2" cy="132.0" r="4.4" fill="#ecd6d9"/>
<circle cx="542.8" cy="132.0" r="4.4" fill="#ecd6d9"/>
<circle cx="555.4" cy="132.0" r="4.4" fill="#ecd6d9"/>
<circle cx="567.9" cy="132.0" r="4.4" fill="#ecd6d9"/>
<circle cx="417.1" cy="146.5" r="4.4" fill="#eef1f6"/>
<circle cx="429.7" cy="146.5" r="4.4" fill="#eef1f6"/>
<circle cx="442.2" cy="146.5" r="4.4" fill="#eef1f6"/>
<circle cx="454.8" cy="146.5" r="4.4" fill="#eef1f6"/>
<circle cx="467.4" cy="146.5" r="4.4" fill="#eef1f6"/>
<circle cx="480.0" cy="146.5" r="4.4" fill="#eef1f6"/>
<circle cx="492.5" cy="146.5" r="4.4" fill="#eef1f6"/>
<circle cx="505.1" cy="146.5" r="4.4" fill="#eef1f6"/>
<circle cx="517.7" cy="146.5" r="4.4" fill="#eef1f6"/>
<circle cx="530.2" cy="146.5" r="4.4" fill="#eef1f6"/>
<circle cx="542.8" cy="146.5" r="4.4" fill="#eef1f6"/>
<circle cx="555.4" cy="146.5" r="4.4" fill="#eef1f6"/>
<circle cx="567.9" cy="146.5" r="4.4" fill="#eef1f6"/>
<circle cx="417.1" cy="161.0" r="4.4" fill="#ecd6d9"/>
<circle cx="429.7" cy="161.0" r="4.4" fill="#ecd6d9"/>
<circle cx="442.2" cy="161.0" r="4.4" fill="#ecd6d9"/>
<circle cx="454.8" cy="161.0" r="4.4" fill="#ecd6d9"/>
<circle cx="467.4" cy="161.0" r="4.4" fill="#ecd6d9"/>
<circle cx="480.0" cy="161.0" r="4.4" fill="#ecd6d9"/>
<circle cx="492.5" cy="161.0" r="4.4" fill="#ecd6d9"/>
<circle cx="505.1" cy="161.0" r="4.4" fill="#ecd6d9"/>
<circle cx="517.7" cy="161.0" r="4.4" fill="#ecd6d9"/>
<circle cx="530.2" cy="161.0" r="4.4" fill="#ecd6d9"/>
<circle cx="542.8" cy="161.0" r="4.4" fill="#ecd6d9"/>
<circle cx="555.4" cy="161.0" r="4.4" fill="#ecd6d9"/>
<circle cx="567.9" cy="161.0" r="4.4" fill="#ecd6d9"/>
<circle cx="417.1" cy="175.5" r="4.4" fill="#eef1f6"/>
<circle cx="429.7" cy="175.5" r="4.4" fill="#eef1f6"/>
<circle cx="442.2" cy="175.5" r="4.4" fill="#eef1f6"/>
<circle cx="454.8" cy="175.5" r="4.4" fill="#eef1f6"/>
<circle cx="467.4" cy="175.5" r="4.4" fill="#eef1f6"/>
<circle cx="480.0" cy="175.5" r="4.4" fill="#eef1f6"/>
<circle cx="492.5" cy="175.5" r="4.4" fill="#eef1f6"/>
<circle cx="505.1" cy="175.5" r="4.4" fill="#eef1f6"/>
<circle cx="517.7" cy="175.5" r="4.4" fill="#eef1f6"/>
<circle cx="530.2" cy="175.5" r="4.4" fill="#eef1f6"/>
<circle cx="542.8" cy="175.5" r="4.4" fill="#eef1f6"/>
<circle cx="555.4" cy="175.5" r="4.4" fill="#eef1f6"/>
<circle cx="567.9" cy="175.5" r="4.4" fill="#eef1f6"/>
<circle cx="417.1" cy="190.0" r="4.4" fill="#ecd6d9"/>
<circle cx="429.7" cy="190.0" r="4.4" fill="#ecd6d9"/>
<circle cx="442.2" cy="190.0" r="4.4" fill="#ecd6d9"/>
<circle cx="454.8" cy="190.0" r="4.4" fill="#ecd6d9"/>
<circle cx="467.4" cy="190.0" r="4.4" fill="#ecd6d9"/>
<circle cx="480.0" cy="190.0" r="4.4" fill="#ecd6d9"/>
<circle cx="492.5" cy="190.0" r="4.4" fill="#ecd6d9"/>
<circle cx="505.1" cy="190.0" r="4.4" fill="#ecd6d9"/>
<circle cx="517.7" cy="190.0" r="4.4" fill="#ecd6d9"/>
<circle cx="530.2" cy="190.0" r="4.4" fill="#ecd6d9"/>
<circle cx="542.8" cy="190.0" r="4.4" fill="#ecd6d9"/>
<circle cx="555.4" cy="190.0" r="4.4" fill="#ecd6d9"/>
<circle cx="567.9" cy="190.0" r="4.4" fill="#ecd6d9"/>
<rect x="461" y="112.5" width="51" height="27" rx="4" fill="none" stroke="#333" stroke-width="0.8" stroke-dasharray="1 0.8"/>
<circle cx="467.4" cy="132.0" r="7.3" fill="none" stroke="#e8262c" stroke-width="1.5" stroke-dasharray="4.6 2.1"/>
<text x="445.6" y="149.5" font-size="9.6" fill="#e8262c" stroke="#e8262c" stroke-width="0.2" font-family="Liberation Sans, sans-serif">QST</text>
<line x1="651.5" y1="14" x2="651.5" y2="217" stroke="#2466ae" stroke-width="1.2" stroke-dasharray="1 1"/>
<polyline points="406.0,23.4 449.0,26.1 470.0,28.1 480.0,30.0 494.0,33.7 500.0,35.3 509.0,37.8 520.0,39.5 532.0,40.9 547.0,40.4 552.0,42.0" fill="none" stroke="#a3cde4" stroke-width="2.1" stroke-dasharray="6.4 3.5" style="mix-blend-mode:multiply"/>
<polyline points="406.0,22.6 449.0,23.8 470.0,25.7 480.0,27.5 494.0,32.2 500.0,33.2 509.0,36.3 519.0,37.8 526.0,39.0 533.0,38.0 539.0,34.0 551.0,31.7 560.0,33.0" fill="none" stroke="#f3ad96" stroke-width="2.1" stroke-dasharray="6.4 3.5" style="mix-blend-mode:multiply"/>
<path d="M559.6,29.2L560.4,34.0M563.0,29.8L562.5,34.8M564.5,29.0L564.1,34.2M566.7,28.2L567.4,37.1M568.6,31.9L567.9,36.4M569.2,31.7L569.2,39.2M570.2,31.7L570.8,37.7M572.1,33.0L571.4,39.1M573.1,32.6L573.5,40.8M574.7,33.8L574.5,38.3M576.1,31.3L576.0,37.5M577.1,36.7L577.5,41.6M578.4,37.5L578.5,41.7M579.9,36.0L580.1,40.5M581.5,35.4L581.5,43.5M586.3,37.1L585.8,42.8M587.2,37.9L587.9,43.0M588.5,37.3L588.8,45.4M589.8,39.3L590.1,45.1M592.0,35.1L591.1,41.8M593.0,36.4L592.4,42.3M594.1,38.4L593.4,43.8M595.2,37.2L594.9,44.5M597.6,36.0L598.7,40.1M598.9,36.1L599.6,41.3M599.8,41.4L600.8,46.2M601.4,41.1L602.2,49.1M602.8,41.5L603.7,47.7M604.9,37.3L603.9,43.8M606.6,39.8L607.4,47.1M609.0,44.9L610.2,50.6M610.7,39.9L611.0,47.5M612.1,43.3L612.8,49.9M614.0,43.2L613.5,51.4M614.4,42.8L615.5,49.3M616.4,43.7L616.6,49.2M619.0,40.0L619.3,48.6M620.5,45.2L620.8,52.2M622.1,43.8L622.0,51.2M622.5,42.3L623.5,50.2M624.5,48.8L623.9,55.6M626.7,44.1L626.9,52.2M627.5,46.9L628.6,53.9M629.7,45.8L629.0,53.0M632.2,46.4L631.6,54.0M632.5,51.5L633.3,59.1M633.4,52.6L634.4,58.9M635.4,50.9L635.7,55.0M636.1,55.2L637.0,60.0M639.1,55.3L638.9,62.4M642.1,61.4L642.3,67.0M643.3,59.8L644.2,65.9M648.2,67.7L647.6,74.5M649.9,69.8L648.9,75.5M651.3,67.5L650.6,76.2M652.1,66.7L652.7,71.9M654.0,68.7L653.3,76.6M655.2,69.6L655.4,75.9M656.3,70.7L656.4,76.5M659.2,68.2L658.9,75.2M660.0,72.0L660.0,80.3M660.8,69.7L661.4,78.4M663.2,75.1L664.2,81.4M664.1,74.2L665.2,78.8M666.1,77.7L665.9,85.0M667.6,81.5L666.5,86.6M668.8,82.4L667.7,90.6M670.1,87.6L669.3,91.9" fill="none" stroke="#f3bcad" stroke-width="1.9" stroke-linecap="butt" opacity="1"/>
<path d="M613.7,46.1L612.9,52.1M617.7,49.8L618.0,57.1M619.6,49.3L618.8,55.8M619.9,51.7L620.8,56.3M625.3,51.2L624.8,57.1M627.9,51.9L627.4,58.8M629.3,55.8L628.1,60.3M630.6,54.7L629.9,62.4M632.9,57.0L632.2,62.1M634.7,59.2L633.7,64.0M635.8,56.7L635.4,63.9M637.5,57.8L637.4,65.5M639.1,63.3L638.3,68.8M641.8,65.9L642.3,71.2M643.7,65.3L643.7,73.1M646.9,69.2L645.9,73.3M647.6,68.0L647.7,74.3M649.2,71.2L648.3,75.3M650.7,67.8L649.8,73.4M652.5,70.0L651.7,77.0M654.0,70.1L654.0,77.5M656.1,72.7L655.7,77.6M659.4,79.4L659.3,84.4M661.7,79.9L662.1,87.6M664.0,79.2L663.5,85.8M665.3,84.9L664.7,91.4" fill="none" stroke="#f3bcad" stroke-width="1.9" stroke-linecap="butt" opacity="1"/>
<path d="M552.0,41.0L552.0,45.3M553.1,39.3L552.9,43.8M554.0,40.3L554.3,47.5M555.5,42.9L555.6,48.2M556.8,42.2L556.8,46.3M558.5,41.7L557.9,49.0M559.2,47.4L559.8,51.9M560.6,46.6L560.3,49.9M561.6,43.1L562.2,50.9M562.7,46.7L563.5,52.8M564.4,47.9L564.4,54.7M566.5,46.2L565.3,53.6M567.3,51.8L567.1,57.7M568.9,50.2L568.8,55.4M570.2,51.5L569.8,56.4M571.8,52.2L571.3,56.1M573.1,49.5L572.7,57.1M575.1,54.1L575.7,61.7M577.2,55.7L577.0,62.1M579.2,56.9L580.1,62.8M581.2,56.7L580.8,64.7M582.1,55.3L582.9,63.2M582.9,59.1L584.1,66.2M584.7,57.8L584.8,63.3M585.2,60.7L586.4,65.4M588.3,61.6L587.5,67.9M588.6,62.5L589.8,68.1M590.9,59.4L590.0,66.2M592.6,62.7L592.2,69.3M593.7,65.9L593.4,71.8M594.2,66.1L595.3,72.0M595.7,62.2L596.6,69.8M597.2,66.4L598.3,72.4M599.7,67.2L599.1,73.8M601.4,71.2L600.6,75.4M602.5,69.6L601.6,75.4M602.9,70.0L603.7,73.6M604.9,70.6L603.8,74.8M605.8,73.5L605.3,76.9M607.0,72.9L606.1,79.9M607.5,75.8L608.6,79.8M609.4,71.0L608.8,77.5M610.8,72.7L610.1,78.7M611.2,75.7L611.8,80.1M613.4,75.4L612.4,80.3M614.4,78.7L614.6,82.2M616.1,76.1L615.5,80.6M616.9,77.2L617.6,84.8M618.6,80.2L619.1,83.4M620.3,81.8L619.7,88.3M620.7,82.5L621.7,86.0M623.0,82.9L622.3,86.7M624.3,84.4L623.5,90.6M625.0,86.7L625.5,91.8M626.7,91.4L625.6,95.9M627.2,89.7L627.9,93.2M629.3,90.7L629.0,97.2M630.8,92.5L630.6,100.3M634.1,100.6L633.2,108.3M634.5,106.0L634.6,110.3M636.1,106.5L635.8,109.8M636.8,105.9L637.2,112.5M638.3,109.1L638.0,116.7M639.4,113.8L640.1,118.4M641.3,116.9L641.2,122.9M644.4,123.3L643.5,128.5M645.8,124.3L644.6,127.7M646.6,128.1L646.8,136.0M648.6,128.8L647.4,134.5M649.7,134.8L649.1,141.1M650.7,134.9L650.2,142.1M651.5,140.5L652.2,144.3M653.5,137.1L653.1,144.3M655.2,144.2L654.1,148.3M655.5,145.6L656.6,153.1M657.9,146.2L656.8,152.1M658.9,153.0L657.8,156.4M659.0,148.9L659.9,156.1M660.8,154.9L660.6,160.4M662.3,157.5L661.5,165.0M663.7,159.4L662.7,163.4M663.9,164.1L665.0,171.4M665.7,165.3L666.0,171.7M667.5,172.8L667.0,179.1M670.2,181.3L670.3,186.4" fill="none" stroke="#a3cde4" stroke-width="1.7" stroke-linecap="butt" opacity="1"/>
<circle cx="454.2" cy="22.3" r="2.8" fill="#fff" stroke="#b5202e" stroke-width="1.55"/>
<circle cx="495.0" cy="27.0" r="2.8" fill="#fff" stroke="#b5202e" stroke-width="1.55"/>
<circle cx="504.6" cy="27.5" r="2.8" fill="#fff" stroke="#b5202e" stroke-width="1.55"/>
<circle cx="511.6" cy="25.6" r="2.8" fill="#fff" stroke="#b5202e" stroke-width="1.55"/>
<circle cx="527.9" cy="36.2" r="2.8" fill="#fff" stroke="#b5202e" stroke-width="1.55"/>
<circle cx="532.2" cy="37.5" r="2.8" fill="#fff" stroke="#b5202e" stroke-width="1.55"/>
<circle cx="557.0" cy="31.1" r="2.8" fill="#fff" stroke="#b5202e" stroke-width="1.55"/>
<circle cx="565.1" cy="35.1" r="2.8" fill="#fff" stroke="#b5202e" stroke-width="1.55"/>
<circle cx="571.9" cy="39.4" r="2.8" fill="#fff" stroke="#b5202e" stroke-width="1.55"/>
<circle cx="577.3" cy="36.2" r="2.8" fill="#fff" stroke="#b5202e" stroke-width="1.55"/>
<circle cx="582.1" cy="37.1" r="2.8" fill="#fff" stroke="#b5202e" stroke-width="1.55"/>
<circle cx="586.5" cy="38.7" r="2.8" fill="#fff" stroke="#b5202e" stroke-width="1.55"/>
<circle cx="590.0" cy="41.0" r="2.8" fill="#fff" stroke="#b5202e" stroke-width="1.55"/>
<circle cx="593.2" cy="37.1" r="2.8" fill="#fff" stroke="#b5202e" stroke-width="1.55"/>
<circle cx="596.3" cy="39.4" r="2.8" fill="#fff" stroke="#b5202e" stroke-width="1.55"/>
<circle cx="598.9" cy="44.6" r="2.8" fill="#fff" stroke="#b5202e" stroke-width="1.55"/>
<circle cx="601.1" cy="39.4" r="2.8" fill="#fff" stroke="#b5202e" stroke-width="1.55"/>
<circle cx="604.3" cy="40.6" r="2.8" fill="#fff" stroke="#b5202e" stroke-width="1.55"/>
<circle cx="609.0" cy="46.2" r="2.8" fill="#fff" stroke="#b5202e" stroke-width="1.55"/>
<circle cx="615.9" cy="45.1" r="2.8" fill="#fff" stroke="#b5202e" stroke-width="1.55"/>
<circle cx="622.2" cy="45.6" r="2.8" fill="#fff" stroke="#b5202e" stroke-width="1.55"/>
<circle cx="627.3" cy="47.9" r="2.8" fill="#fff" stroke="#b5202e" stroke-width="1.55"/>
<circle cx="632.5" cy="51.4" r="2.8" fill="#fff" stroke="#b5202e" stroke-width="1.55"/>
<circle cx="636.2" cy="54.6" r="2.8" fill="#fff" stroke="#b5202e" stroke-width="1.55"/>
<circle cx="639.7" cy="53.0" r="2.8" fill="#fff" stroke="#b5202e" stroke-width="1.55"/>
<circle cx="642.5" cy="55.1" r="2.8" fill="#fff" stroke="#b5202e" stroke-width="1.55"/>
<circle cx="645.7" cy="57.1" r="2.8" fill="#fff" stroke="#b5202e" stroke-width="1.55"/>
<circle cx="649.2" cy="58.7" r="2.8" fill="#fff" stroke="#b5202e" stroke-width="1.55"/>
<circle cx="654.0" cy="61.4" r="2.8" fill="#fff" stroke="#b5202e" stroke-width="1.55"/>
<circle cx="656.3" cy="65.1" r="2.8" fill="#fff" stroke="#b5202e" stroke-width="1.55"/>
<circle cx="659.5" cy="67.8" r="2.8" fill="#fff" stroke="#b5202e" stroke-width="1.55"/>
<circle cx="662.7" cy="69.4" r="2.8" fill="#fff" stroke="#b5202e" stroke-width="1.55"/>
<circle cx="665.4" cy="71.0" r="2.8" fill="#fff" stroke="#b5202e" stroke-width="1.55"/>
<circle cx="669.8" cy="74.6" r="2.8" fill="#fff" stroke="#b5202e" stroke-width="1.55"/>
<circle cx="406.0" cy="23.0" r="2.8" fill="#fff" stroke="#2466ae" stroke-width="1.55"/>
<circle cx="454.2" cy="24.6" r="2.8" fill="#fff" stroke="#2466ae" stroke-width="1.55"/>
<circle cx="461.8" cy="25.4" r="2.8" fill="#fff" stroke="#2466ae" stroke-width="1.55"/>
<circle cx="482.0" cy="25.9" r="2.8" fill="#fff" stroke="#2466ae" stroke-width="1.55"/>
<circle cx="495.1" cy="25.4" r="2.8" fill="#fff" stroke="#2466ae" stroke-width="1.55"/>
<circle cx="504.6" cy="25.9" r="2.8" fill="#fff" stroke="#2466ae" stroke-width="1.55"/>
<circle cx="512.1" cy="28.3" r="2.8" fill="#fff" stroke="#2466ae" stroke-width="1.55"/>
<circle cx="517.9" cy="29.9" r="2.8" fill="#fff" stroke="#2466ae" stroke-width="1.55"/>
<circle cx="523.2" cy="31.8" r="2.8" fill="#fff" stroke="#2466ae" stroke-width="1.55"/>
<circle cx="527.9" cy="33.4" r="2.8" fill="#fff" stroke="#2466ae" stroke-width="1.55"/>
<circle cx="532.2" cy="35.0" r="2.8" fill="#fff" stroke="#2466ae" stroke-width="1.55"/>
<circle cx="546.7" cy="36.2" r="2.8" fill="#fff" stroke="#2466ae" stroke-width="1.55"/>
<circle cx="557.0" cy="39.1" r="2.8" fill="#fff" stroke="#2466ae" stroke-width="1.55"/>
<circle cx="565.1" cy="43.8" r="2.8" fill="#fff" stroke="#2466ae" stroke-width="1.55"/>
<circle cx="571.9" cy="47.0" r="2.8" fill="#fff" stroke="#2466ae" stroke-width="1.55"/>
<circle cx="577.3" cy="49.8" r="2.8" fill="#fff" stroke="#2466ae" stroke-width="1.55"/>
<circle cx="581.8" cy="52.8" r="2.8" fill="#fff" stroke="#2466ae" stroke-width="1.55"/>
<circle cx="586.2" cy="58.0" r="2.8" fill="#fff" stroke="#2466ae" stroke-width="1.55"/>
<circle cx="589.4" cy="64.3" r="2.8" fill="#fff" stroke="#2466ae" stroke-width="1.55"/>
<circle cx="593.4" cy="63.9" r="2.8" fill="#fff" stroke="#2466ae" stroke-width="1.55"/>
<circle cx="596.8" cy="67.5" r="2.8" fill="#fff" stroke="#2466ae" stroke-width="1.55"/>
<circle cx="599.4" cy="70.8" r="2.8" fill="#fff" stroke="#2466ae" stroke-width="1.55"/>
<circle cx="602.1" cy="68.3" r="2.8" fill="#fff" stroke="#2466ae" stroke-width="1.55"/>
<circle cx="604.7" cy="72.2" r="2.8" fill="#fff" stroke="#2466ae" stroke-width="1.55"/>
<circle cx="609.3" cy="77.4" r="2.8" fill="#fff" stroke="#2466ae" stroke-width="1.55"/>
<circle cx="616.6" cy="87.3" r="2.8" fill="#fff" stroke="#2466ae" stroke-width="1.55"/>
<circle cx="622.0" cy="96.0" r="2.8" fill="#fff" stroke="#2466ae" stroke-width="1.55"/>
<circle cx="627.8" cy="105.9" r="2.8" fill="#fff" stroke="#2466ae" stroke-width="1.55"/>
<circle cx="632.1" cy="109.4" r="2.8" fill="#fff" stroke="#2466ae" stroke-width="1.55"/>
<circle cx="636.1" cy="116.8" r="2.8" fill="#fff" stroke="#2466ae" stroke-width="1.55"/>
<circle cx="639.7" cy="119.8" r="2.8" fill="#fff" stroke="#2466ae" stroke-width="1.55"/>
<circle cx="642.7" cy="125.3" r="2.8" fill="#fff" stroke="#2466ae" stroke-width="1.55"/>
<circle cx="646.0" cy="132.1" r="2.8" fill="#fff" stroke="#2466ae" stroke-width="1.55"/>
<circle cx="648.7" cy="136.0" r="2.8" fill="#fff" stroke="#2466ae" stroke-width="1.55"/>
<circle cx="651.7" cy="140.9" r="2.8" fill="#fff" stroke="#2466ae" stroke-width="1.55"/>
<circle cx="654.0" cy="144.9" r="2.8" fill="#fff" stroke="#2466ae" stroke-width="1.55"/>
<circle cx="656.0" cy="148.3" r="2.8" fill="#fff" stroke="#2466ae" stroke-width="1.55"/>
<circle cx="657.6" cy="154.2" r="2.8" fill="#fff" stroke="#2466ae" stroke-width="1.55"/>
<circle cx="660.6" cy="153.4" r="2.8" fill="#fff" stroke="#2466ae" stroke-width="1.55"/>
<circle cx="662.6" cy="156.8" r="2.8" fill="#fff" stroke="#2466ae" stroke-width="1.55"/>
<circle cx="664.6" cy="159.8" r="2.8" fill="#fff" stroke="#2466ae" stroke-width="1.55"/>
<circle cx="666.5" cy="162.7" r="2.8" fill="#fff" stroke="#2466ae" stroke-width="1.55"/>
<circle cx="669.1" cy="167.3" r="2.8" fill="#fff" stroke="#2466ae" stroke-width="1.55"/>
<line x1="637" y1="139.5" x2="664" y2="139.5" stroke="#2466ae" stroke-width="1.2" stroke-dasharray="1 1"/>
<line x1="603" y1="63.8" x2="630" y2="63.8" stroke="#000" stroke-width="1.3"/>
<polygon points="629.4,61.4 635,63.8 629.4,66.2" fill="#000"/>
<text x="626.6" y="141.1" font-size="10" font-style="italic" fill="#111" font-family="Liberation Sans, sans-serif">τ</text><text x="630.6" y="144.2" font-size="7.5" font-style="italic" fill="#111" font-family="Liberation Serif, serif">I</text>
<rect x="392.5" y="13.5" width="291" height="203.5" fill="none" stroke="#5a5a5a" stroke-width="1"/>
<line x1="389" y1="208.7" x2="392.5" y2="208.7" stroke="#5a5a5a" stroke-width="1"/>
<text x="384" y="211.9" font-size="9.6" text-anchor="end" fill="#111" font-family="Liberation Sans, sans-serif">0</text>
<line x1="389" y1="171.5" x2="392.5" y2="171.5" stroke="#5a5a5a" stroke-width="1"/>
<text x="384" y="174.7" font-size="9.6" text-anchor="end" fill="#111" font-family="Liberation Sans, sans-serif">0.2</text>
<line x1="389" y1="134.3" x2="392.5" y2="134.3" stroke="#5a5a5a" stroke-width="1"/>
<text x="384" y="137.5" font-size="9.6" text-anchor="end" fill="#111" font-family="Liberation Sans, sans-serif">0.4</text>
<line x1="389" y1="97.2" x2="392.5" y2="97.2" stroke="#5a5a5a" stroke-width="1"/>
<text x="384" y="100.4" font-size="9.6" text-anchor="end" fill="#111" font-family="Liberation Sans, sans-serif">0.6</text>
<line x1="389" y1="60.0" x2="392.5" y2="60.0" stroke="#5a5a5a" stroke-width="1"/>
<text x="384" y="63.2" font-size="9.6" text-anchor="end" fill="#111" font-family="Liberation Sans, sans-serif">0.8</text>
<line x1="389" y1="22.8" x2="392.5" y2="22.8" stroke="#5a5a5a" stroke-width="1"/>
<text x="384" y="26.0" font-size="9.6" text-anchor="end" fill="#111" font-family="Liberation Sans, sans-serif">1.0</text>
<line x1="406.4" y1="217" x2="406.4" y2="221.8" stroke="#5a5a5a" stroke-width="1"/>
<text x="406.5" y="234.4" font-size="9.6" text-anchor="middle" fill="#111" font-family="Liberation Sans, sans-serif">10<tspan font-size="6.4" dx="-0.2" dy="-5">0</tspan></text>
<line x1="486.5" y1="217" x2="486.5" y2="221.8" stroke="#5a5a5a" stroke-width="1"/>
<text x="486.6" y="234.4" font-size="9.6" text-anchor="middle" fill="#111" font-family="Liberation Sans, sans-serif">10<tspan font-size="6.4" dx="-0.2" dy="-5">1</tspan></text>
<line x1="566.6" y1="217" x2="566.6" y2="221.8" stroke="#5a5a5a" stroke-width="1"/>
<text x="566.7" y="234.4" font-size="9.6" text-anchor="middle" fill="#111" font-family="Liberation Sans, sans-serif">10<tspan font-size="6.4" dx="-0.2" dy="-5">2</tspan></text>
<line x1="646.7" y1="217" x2="646.7" y2="221.8" stroke="#5a5a5a" stroke-width="1"/>
<text x="646.8" y="234.4" font-size="9.6" text-anchor="middle" fill="#111" font-family="Liberation Sans, sans-serif">10<tspan font-size="6.4" dx="-0.2" dy="-5">3</tspan></text>
<text x="538.6" y="250" font-size="9.6" text-anchor="middle" fill="#111" font-family="Liberation Sans, sans-serif">Time, <tspan font-style="italic">t</tspan> (ns)</text>
<text transform="translate(361.5,115.5) rotate(-90)" font-size="9.9" text-anchor="middle" fill="#111" font-family="Liberation Sans, sans-serif">Imbalance, <tspan font-style="italic" font-size="10.5" font-family="Liberation Serif, serif">I</tspan></text>
<rect x="682.5" y="35.5" width="2.5" height="6.3" fill="#3a3a3a"/>
<text x="352.2" y="9.6" font-size="13" font-weight="bold" fill="#000" font-family="Liberation Sans, sans-serif">b</text>
</svg></body></html>
